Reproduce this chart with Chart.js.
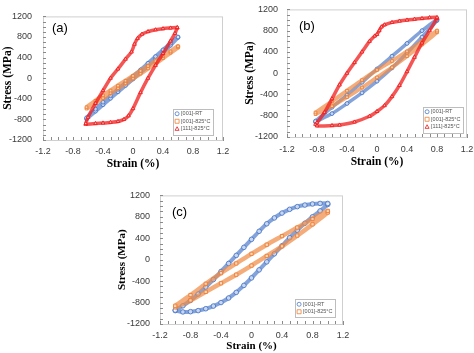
<!DOCTYPE html>
<html>
<head>
<meta charset="utf-8">
<script src="https://cdn.jsdelivr.net/npm/chart.js@4.4.0/dist/chart.umd.min.js"></script>
<style>
  html, body { margin: 0; padding: 0; background: #fff; overflow: hidden; }
  body { width: 474px; height: 353px; position: relative; }
  canvas { position: absolute; }
</style>
</head>
<body>
<canvas id="panelA" width="237" height="175" style="left:0;top:0"></canvas>
<canvas id="panelB" width="247" height="180" style="left:237px;top:-5px"></canvas>
<canvas id="panelC" width="260" height="173" style="left:100px;top:180px"></canvas>
<script>
// tick labels
const strainTicks = ['-1.2', '-0.8', '-0.4', '0', '0.4', '0.8', '1.2'];
const stressTicks = ['-1200', '-800', '-400', '0', '400', '800', '1200'];
const seriesNames = ['[001]-RT', '[001]-825°C', '[111]-825°C'];

// (a) strain amplitude ~0.6 %
const aRtStrain = [-0.62, -0.5, -0.4, -0.3, -0.2, -0.1, 0, 0.1, 0.2, 0.3, 0.4, 0.5, 0.6, 0.6, 0.5, 0.4, 0.3, 0.2, 0.1, 0, -0.1, -0.2, -0.3, -0.4, -0.5, -0.62];
const aRtStress = [-790, -640, -515, -390, -265, -140, -15, 110, 240, 370, 500, 640, 790, 800, 680, 550, 420, 290, 160, 35, -90, -215, -340, -465, -600, -770];
const a825Strain = aRtStrain;
const a825Stress = [-590, -480, -385, -290, -195, -100, -5, 90, 190, 290, 390, 495, 600, 620, 520, 425, 330, 235, 140, 45, -50, -145, -240, -335, -440, -565];
const a111Strain = [-0.63, -0.5, -0.4, -0.3, -0.2, -0.12, -0.06, 0, 0.1, 0.2, 0.3, 0.4, 0.5, 0.56, 0.59, 0.59, 0.5, 0.4, 0.3, 0.2, 0.12, 0.06, 0.02, -0.02, -0.1, -0.2, -0.3, -0.4, -0.5, -0.6, -0.63];
const a111Stress = [-895, -880, -870, -858, -840, -800, -730, -590, -280, 0, 250, 480, 720, 870, 975, 985, 975, 962, 940, 905, 855, 770, 660, 510, 370, 180, 0, -240, -490, -760, -880];

// (b) strain amplitude ~0.8 %
const bRtStrain = [-0.82, -0.6, -0.4, -0.2, 0, 0.2, 0.4, 0.6, 0.8, 0.8, 0.6, 0.4, 0.2, 0, -0.2, -0.4, -0.6, -0.82];
const bRtStress = [-920, -760, -570, -370, -150, 100, 380, 680, 990, 1010, 800, 560, 320, 80, -170, -410, -640, -900];
const b825Strain = bRtStrain;
const b825Stress = [-770, -620, -450, -270, -80, 110, 320, 540, 770, 800, 600, 410, 230, 60, -130, -330, -530, -740];
const b111Strain = [-0.82, -0.8, -0.6, -0.5, -0.3, -0.1, 0, 0.1, 0.2, 0.3, 0.4, 0.5, 0.6, 0.7, 0.8, 0.8, 0.7, 0.6, 0.5, 0.4, 0.3, 0.2, 0.1, 0.06, 0.03, 0, -0.03, -0.1, -0.2, -0.3, -0.4, -0.5, -0.6, -0.7, -0.8];
const b111Stress = [-960, -990, -985, -975, -918, -810, -720, -610, -440, -230, 30, 300, 570, 800, 1030, 1050, 1045, 1030, 1015, 1000, 980, 955, 910, 870, 800, 730, 700, 600, 400, 200, 0, -220, -480, -740, -930];

// (c) strain amplitude ~1.0 %
const cRtStrain = [-1.0, -0.9, -0.8, -0.7, -0.6, -0.5, -0.4, -0.3, -0.2, -0.1, 0, 0.1, 0.2, 0.3, 0.4, 0.5, 0.6, 0.7, 0.8, 0.9, 1.0, 1.0, 0.9, 0.8, 0.7, 0.6, 0.5, 0.4, 0.3, 0.2, 0.1, 0, -0.1, -0.2, -0.3, -0.4, -0.5, -0.6, -0.7, -0.8, -0.9, -1.0];
const cRtStress = [-950, -975, -970, -950, -915, -865, -800, -715, -610, -480, -340, -190, -40, 110, 260, 410, 550, 680, 800, 910, 1030, 1050, 1050, 1040, 1020, 990, 940, 870, 780, 670, 530, 380, 230, 80, -70, -220, -370, -510, -640, -760, -860, -940];
const c825Strain = [-1.0, -0.8, -0.6, -0.4, -0.2, 0, 0.2, 0.4, 0.6, 0.8, 1.0, 1.0, 0.8, 0.6, 0.4, 0.2, 0, -0.2, -0.4, -0.6, -0.8, -1.0];
const c825Stress = [-890, -760, -600, -440, -280, -110, 70, 250, 450, 660, 880, 910, 760, 600, 440, 280, 110, -70, -250, -450, -660, -860];

const styles = [
  { color: '#4a78c8', line: 'rgba(84,128,205,0.72)', pointStyle: 'circle', order: 3 },
  { color: '#ed7d31', line: 'rgba(240,140,70,0.72)', pointStyle: 'rect', order: 2 },
  { color: '#f01818', line: 'rgba(240,30,30,0.75)', pointStyle: 'triangle', order: 1 }
];

function loop(strain, stress, k, radius, width) {
  const st = styles[k];
  return {
    label: seriesNames[k],
    data: strain.map((s, i) => ({ x: s, y: stress[i] })),
    showLine: true,
    tension: 0.25,
    borderColor: st.line,
    borderWidth: width,
    pointStyle: st.pointStyle,
    pointRadius: radius,
    pointBorderWidth: 0.9,
    pointBorderColor: st.color,
    pointBackgroundColor: 'rgba(255,255,255,0.55)',
    order: st.order
  };
}

function drawMarker(ctx, style, x, y, r) {
  ctx.beginPath();
  if (style === 'circle') {
    ctx.arc(x, y, r, 0, Math.PI * 2);
  } else if (style === 'rect') {
    ctx.rect(x - r, y - r, r * 2, r * 2);
  } else {
    ctx.moveTo(x, y - r);
    ctx.lineTo(x + r, y + r * 0.8);
    ctx.lineTo(x - r, y + r * 0.8);
    ctx.closePath();
  }
  ctx.stroke();
}

const panelDecor = {
  id: 'panelDecor',
  beforeDatasetsDraw(chart, args, opts) {
    const { ctx, chartArea: a, scales: { x, y } } = chart;
    ctx.save();
    ctx.strokeStyle = '#cfcfcf';
    ctx.lineWidth = 1;
    ctx.strokeRect(a.left + 0.5, a.top + 0.5, a.width - 1, a.height);
    ctx.strokeStyle = '#8a8a8a';
    ctx.beginPath();
    for (let v = x.min; v <= x.max + 1e-9; v += opts.xMinor) {
      const px = Math.round(x.getPixelForValue(v)) + 0.5;
      ctx.moveTo(px, a.bottom);
      ctx.lineTo(px, a.bottom - 3);
    }
    for (let v = y.min; v <= y.max + 1e-9; v += opts.yMinor) {
      const py = Math.round(y.getPixelForValue(v)) + 0.5;
      ctx.moveTo(a.left, py);
      ctx.lineTo(a.left + 3, py);
    }
    ctx.stroke();
    ctx.fillStyle = '#000';
    ctx.font = '13px "Liberation Sans"';
    ctx.textBaseline = 'middle';
    ctx.fillText(opts.tag, a.left + opts.tagDx, a.top + opts.tagDy);
    ctx.restore();
  },
  afterDraw(chart, args, opts) {
    const { ctx, chartArea: a } = chart;
    const items = chart.data.datasets;
    ctx.save();
    ctx.font = '5.5px "Liberation Sans"';
    const tw = Math.max(...items.map(d => ctx.measureText(d.label).width));
    const lh = 7.5;
    const w = tw + 11;
    const h = items.length * lh + 3;
    const right = a.right - opts.legendDx;
    const bottom = a.bottom - opts.legendDy;
    const left = right - w, top = bottom - h;
    ctx.fillStyle = '#fff';
    ctx.fillRect(left, top, w, h);
    ctx.strokeStyle = '#bdbdbd';
    ctx.lineWidth = 1;
    ctx.strokeRect(Math.round(left) + 0.5, Math.round(top) + 0.5, Math.round(w), Math.round(h));
    ctx.textBaseline = 'middle';
    items.forEach((d, i) => {
      const cy = top + 1.5 + lh * i + lh / 2;
      ctx.strokeStyle = d.pointBorderColor;
      ctx.lineWidth = 0.8;
      drawMarker(ctx, d.pointStyle, left + 4.5, cy, 2);
      ctx.fillStyle = '#555';
      ctx.fillText(d.label, left + 8.5, cy);
    });
    ctx.restore();
  }
};

function makePanel(id, datasets, cfg) {
  new Chart(document.getElementById(id), {
    type: 'scatter',
    data: { datasets },
    options: {
      responsive: false,
      animation: false,
      layout: { padding: cfg.padding },
      plugins: {
        legend: { display: false },
        tooltip: { enabled: false },
        panelDecor: {
          xMinor: 0.1, yMinor: 100, tag: cfg.tag, tagDx: cfg.tagDx, tagDy: cfg.tagDy,
          legendDx: cfg.legendDx, legendDy: cfg.legendDy
        }
      },
      scales: {
        x: {
          type: 'linear', min: -1.2, max: 1.2,
          afterFit: s => { s.height = cfg.xHeight; },
          grid: { display: false, drawTicks: false },
          border: { display: true, color: '#8a8a8a', width: 1 },
          ticks: {
            stepSize: 0.4, autoSkip: false, maxRotation: 0, padding: cfg.xTickPad,
            color: '#3a3a3a', font: { family: 'Liberation Sans', size: 9 },
            callback: (v, i) => strainTicks[i]
          },
          title: {
            display: true, text: 'Strain (%)', color: '#000',
            font: { family: 'Liberation Serif', size: cfg.titleSize, weight: 'bold' },
            padding: { top: 0, bottom: cfg.xTitlePad }
          }
        },
        y: {
          type: 'linear', min: -1200, max: 1200,
          afterFit: s => { s.width = cfg.yWidth; },
          grid: { display: false, drawTicks: false },
          border: { display: true, color: '#8a8a8a', width: 1 },
          ticks: {
            stepSize: 400, autoSkip: false, padding: cfg.yTickPad,
            color: '#3a3a3a', font: { family: 'Liberation Sans', size: 9 },
            callback: (v, i) => stressTicks[i]
          },
          title: {
            display: true, text: 'Stress (MPa)', color: '#000',
            font: { family: 'Liberation Serif', size: cfg.titleSize, weight: 'bold' },
            padding: { top: cfg.yTitlePad, bottom: 0 }
          }
        }
      }
    },
    plugins: [panelDecor]
  });
}

makePanel('panelA', [
  loop(aRtStrain, aRtStress, 0, 1.9, 4),
  loop(a825Strain, a825Stress, 1, 1.9, 4.5),
  loop(a111Strain, a111Stress, 2, 2.1, 3.5)
], {
  padding: { left: 0, top: 7, right: 14, bottom: 0 },
  yWidth: 43, xHeight: 35, yTickPad: 11, xTickPad: 6, xTitlePad: 4.5, yTitlePad: 1,
  titleSize: 11.5, tag: '(a)', tagDx: 9, tagDy: 12, legendDx: 10, legendDy: 6
});

makePanel('panelB', [
  loop(bRtStrain, bRtStress, 0, 1.9, 3.5),
  loop(b825Strain, b825Stress, 1, 1.9, 4),
  loop(b111Strain, b111Stress, 2, 2.1, 3.5)
], {
  padding: { left: 0, top: 9, right: 17, bottom: 0 },
  yWidth: 50, xHeight: 38, yTickPad: 9, xTickPad: 7, xTitlePad: 6.5, yTitlePad: 6.5,
  titleSize: 11.5, tag: '(b)', tagDx: 12, tagDy: 17, legendDx: 4, legendDy: 5
});

makePanel('panelC', [
  loop(cRtStrain, cRtStress, 0, 2.3, 4),
  loop(c825Strain, c825Stress, 1, 2.3, 4.5)
], {
  padding: { left: 0, top: 10, right: 17, bottom: 0 },
  yWidth: 60, xHeight: 29, yTickPad: 10, xTickPad: 6, xTitlePad: 0, yTitlePad: 15.5,
  titleSize: 11, tag: '(c)', tagDx: 12, tagDy: 17, legendDx: 8, legendDy: 7
});
</script>
</body>
</html>
